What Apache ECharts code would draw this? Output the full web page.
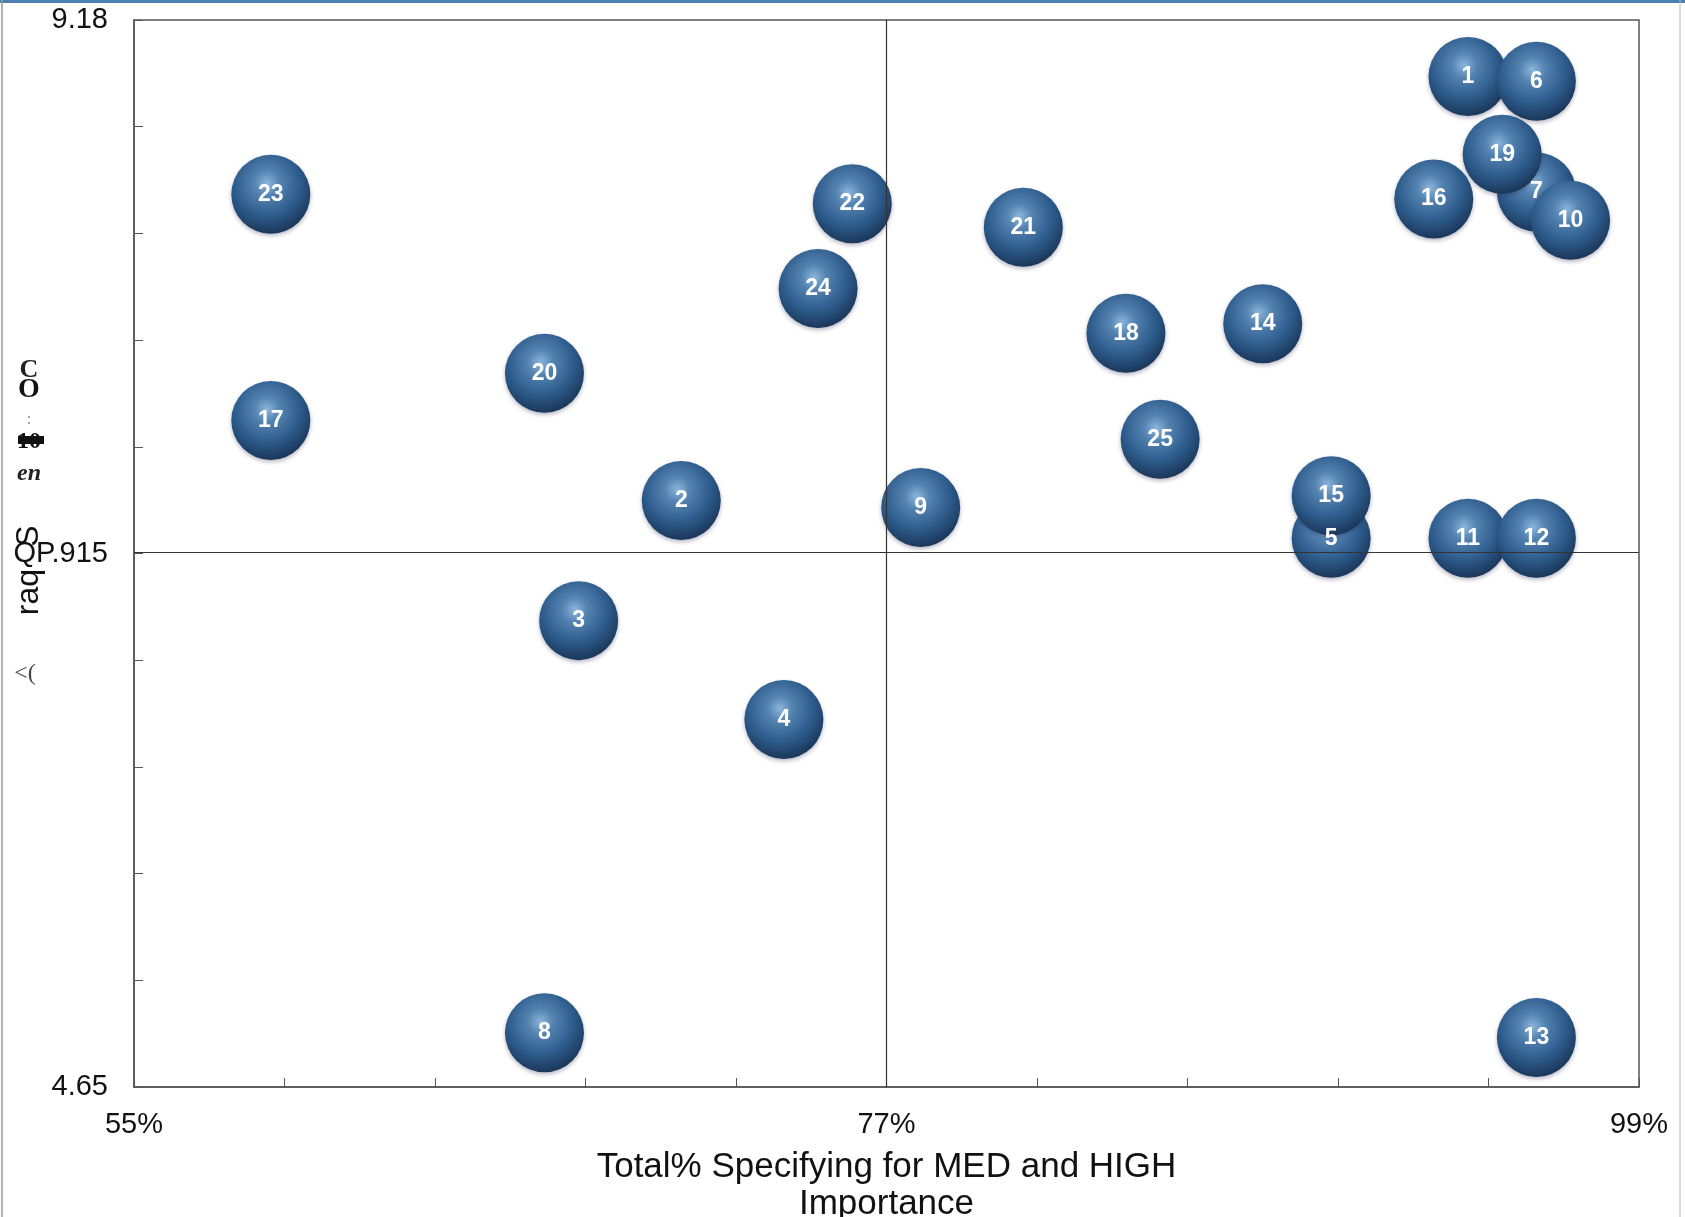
<!DOCTYPE html>
<html>
<head>
<meta charset="utf-8">
<style>
html,body{margin:0;padding:0;background:#fff;}
#chart{width:1685px;height:1217px;}
</style>
<script src="https://cdn.jsdelivr.net/npm/echarts@6/dist/echarts.min.js"></script>
</head>
<body>
<div id="chart"></div>
<script>
// Item numbers
const ids = [1,2,3,4,5,6,7,8,9,10,11,12,13,14,15,16,17,18,19,20,21,22,23,24,25];
// Total % specifying MED and HIGH importance
const xValues = [94,71,68,74,90,96,96,67,78,97,94,96,96,88,90,93,59,84,95,67,81,76,59,75,85];
// Average score
const yValues = [8.94,7.14,6.63,6.21,6.98,8.92,8.45,4.88,7.11,8.33,6.98,6.98,4.86,7.89,7.16,8.42,7.48,7.85,8.61,7.68,8.30,8.40,8.44,8.04,7.40];
// Tick labels
const xTickLabels = {55:'55%',77:'77%',99:'99%'};
const yTickLabels = [[9.18,'9.18'],[6.915,'QP.915'],[4.65,'4.65']];
const xTitle = 'Total% Specifying for MED and HIGH\nImportance';

// draw order: let later points sit on top
const order = [1,2,3,4,5,15,6,7,19,10,8,9,11,12,13,14,16,17,18,20,21,22,23,24,25];
const points = order.map(id => {
  const i = ids.indexOf(id);
  return {value:[xValues[i], yValues[i], id]};
});

const chart = echarts.init(document.getElementById('chart'));
const font = '"Liberation Sans", Arial, sans-serif';
const sphere = {
  type:'radial', x:0.45, y:0.36, r:0.64,
  colorStops:[
    {offset:0, color:'#8cb5da'},
    {offset:0.25, color:'#5483b2'},
    {offset:0.65, color:'#2d5c8c'},
    {offset:1, color:'#1b375a'}
  ]
};
chart.setOption({
  animation:false,
  backgroundColor:'#fff',
  textStyle:{fontFamily:font},
  grid:{left:134,right:46,top:20,bottom:130,outerBoundsMode:'none',containLabel:false,show:true,borderColor:'#555',borderWidth:1.5,backgroundColor:'transparent'},
  xAxis:{
    type:'value', min:55, max:99, interval:4.4,
    axisLine:{show:true,lineStyle:{color:'#555',width:1.5}},
    axisTick:{show:true,inside:true,length:9,lineStyle:{color:'#555'}},
    splitLine:{show:false},
    axisLabel:{
      fontSize:29,color:'#111',margin:23,fontFamily:font,
      formatter:v=>{const k=Math.round(v); return (Math.abs(v-k)<0.01 && xTickLabels[k])?xTickLabels[k]:'';}
    },
    name:xTitle, nameLocation:'middle', nameGap:62,
    nameTextStyle:{fontSize:35,color:'#111',lineHeight:37,fontFamily:font,verticalAlign:'top'}
  },
  yAxis:{
    type:'value', min:4.65, max:9.18, interval:0.453,
    axisLine:{show:true,lineStyle:{color:'#555',width:1.5}},
    axisTick:{show:true,inside:true,length:9,lineStyle:{color:'#555'}},
    splitLine:{show:false},
    axisLabel:{
      fontSize:29,color:'#111',margin:26,fontFamily:font,
      formatter:v=>{for(const [t,s] of yTickLabels){if(Math.abs(v-t)<0.01)return s;}return '';}
    }
  },
  graphic:[
    {type:'rect',left:0,top:0,shape:{width:1685,height:3},style:{fill:'#4b7fb0'},silent:true},
    {type:'line',shape:{x1:2,y1:0,x2:2,y2:1217},style:{stroke:'#999',lineWidth:1.5},silent:true},
    {type:'line',shape:{x1:1680,y1:0,x2:1680,y2:1217},style:{stroke:'#bbb',lineWidth:1},silent:true},
    {type:'text',x:29,y:370,style:{text:'C',font:'bold 26px "Liberation Serif", serif',fill:'#222',textAlign:'center',textVerticalAlign:'middle'}},
    {type:'text',x:29,y:390,style:{text:'O',font:'bold 28px "Liberation Serif", serif',fill:'#111',textAlign:'center',textVerticalAlign:'middle'}},
    {type:'text',x:29,y:420,style:{text:':',font:'16px "Liberation Serif", serif',fill:'#888',textAlign:'center',textVerticalAlign:'middle'}},
    {type:'text',x:29,y:442,style:{text:'10',font:'bold 24px "Liberation Serif", serif',fill:'#111',textAlign:'center',textVerticalAlign:'middle'}},
    {type:'rect',shape:{x:18,y:436,width:26,height:8},style:{fill:'#111'},silent:true},
    {type:'text',x:29,y:474,style:{text:'en',font:'italic bold 24px "Liberation Serif", serif',fill:'#222',textAlign:'center',textVerticalAlign:'middle'}},
    {type:'text',x:29,y:536,rotation:Math.PI/2,style:{text:'S',font:'32px "Liberation Sans", Arial',fill:'#111',textAlign:'center',textVerticalAlign:'middle'}},
    {type:'text',x:29,y:592,rotation:Math.PI/2,style:{text:'raq',font:'32px "Liberation Sans", Arial',fill:'#111',textAlign:'center',textVerticalAlign:'middle'}},
    {type:'text',x:25,y:674,style:{text:'<(',font:'24px "Liberation Serif", serif',fill:'#444',textAlign:'center',textVerticalAlign:'middle'}}
  ],
  series:[{
    type:'scatter',
    symbol:'circle',
    symbolSize:79,
    data:points,
    itemStyle:{color:sphere,opacity:1,shadowColor:'rgba(40,40,80,0.35)',shadowBlur:4,shadowOffsetY:2},
    label:{show:true,position:'inside',formatter:p=>String(p.value[2]),color:'#fff',fontWeight:'bold',fontSize:23,fontFamily:font},
    markLine:{
      silent:true,symbol:'none',animation:false,label:{show:false},
      lineStyle:{color:'#333',width:1.2,type:'solid'},
      data:[{xAxis:77},{yAxis:6.915}]
    },
    z:3
  }]
});
</script>
</body>
</html>
